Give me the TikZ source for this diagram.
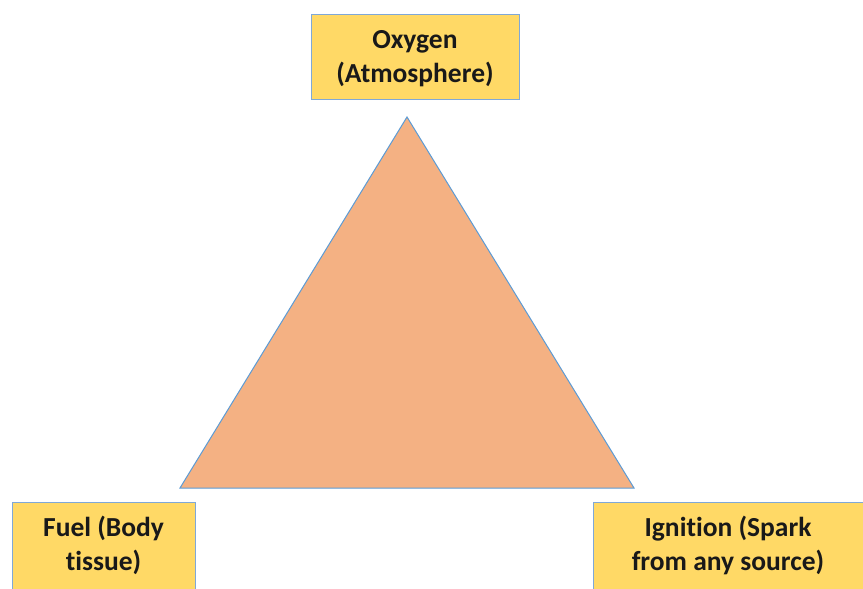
\documentclass[tikz,border=0pt]{standalone}
\usepackage{fontspec}
\setmainfont[Ligatures=NoCommon]{Carlito}
\definecolor{boxfill}{HTML}{FFD966}
\definecolor{boxline}{HTML}{7FA8D8}
\definecolor{trifill}{HTML}{F4B183}
\definecolor{triline}{HTML}{5B9BD5}
\begin{document}
\begin{tikzpicture}[x=1pt,y=-1pt,
  boxshape/.style={draw=boxline, line width=1.2pt, fill=boxfill, inner sep=0pt, anchor=north west},
  labeltext/.style={inner sep=0pt, align=center, font=\fontsize{27.5}{34}\selectfont\bfseries, text=black!90}]
\useasboundingbox (0,0) rectangle (863,589);
\fill[white] (0,0) rectangle (863,589);
\draw[fill=trifill, draw=triline, line width=1pt, line join=miter] (407,117) -- (180,488) -- (634,488) -- cycle;
\node[boxshape, minimum width=208pt, minimum height=85pt] (oxy) at (311,14) {};
\node[labeltext] (oxyt) at (415,58.5) {Oxygen\\(Atmosphere)};
\node[boxshape, minimum width=183pt, minimum height=100pt] (fuel) at (12,502) {};
\node[labeltext] (fuelt) at (103.5,545.5) {Fuel (Body\\tissue)};
\node[boxshape, minimum width=290pt, minimum height=100pt] (ign) at (593,502) {};
\node[labeltext] (ignt) at (728,545.5) {Ignition (Spark\\from any source)};
\end{tikzpicture}
\end{document}
